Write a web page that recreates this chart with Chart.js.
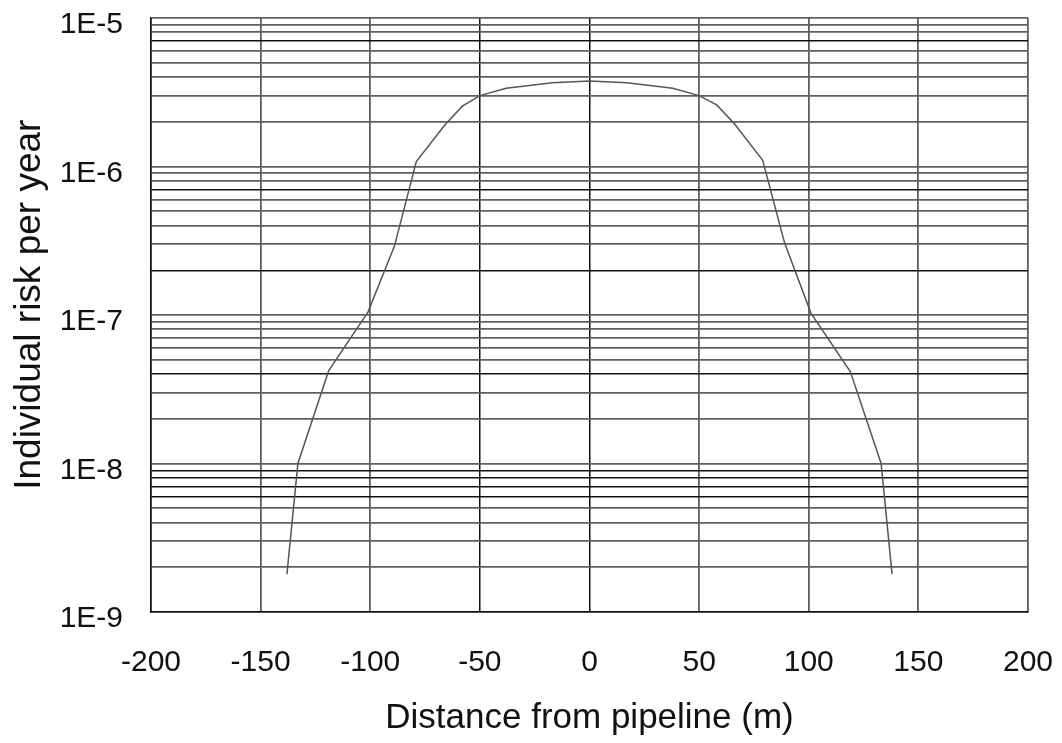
<!DOCTYPE html>
<html>
<head>
<meta charset="utf-8">
<script src="https://cdn.jsdelivr.net/npm/chart.js@4.4.1/dist/chart.umd.min.js"></script>
<style>
  body { margin: 0; background: #fff; }
</style>
</head>
<body>
<canvas id="riskChart" width="1062" height="743"></canvas>
<script>
// distance from pipeline (m) and individual risk per year
const distances = [-138, -133, -119, -101, -89, -79, -66, -58, -50, -38, -17, 0, 17, 38, 50, 58, 66, 79, 89, 101, 119, 133, 138];
const riskValues = [1.8e-9, 1.0e-8, 4.2e-8, 1.05e-7, 2.9e-7, 1.08e-6, 1.9e-6, 2.55e-6, 3.0e-6, 3.36e-6, 3.66e-6, 3.77e-6, 3.66e-6, 3.36e-6, 3.0e-6, 2.6e-6, 1.95e-6, 1.1e-6, 3.05e-7, 1.03e-7, 4.15e-8, 1.0e-8, 1.8e-9];

// axis ticks
const xTicks = [-200, -150, -100, -50, 0, 50, 100, 150, 200];
const yDecades = [1e-9, 1e-8, 1e-7, 1e-6, 1e-5];
const yTickLabels = ['1E-9', '1E-8', '1E-7', '1E-6', '1E-5'];

// grid lines that print darker in the original
const darkX = [-50, 0];
const darkY = [7e-6, 7e-7, 2e-7, 4e-8, 9e-9, 8e-9, 7e-9, 6e-9];

const sameLog = (a, b) => Math.abs(Math.log10(a) - Math.log10(b)) < 1e-6;

const points = distances.map((d, i) => ({ x: d, y: riskValues[i] }));

const ctx = document.getElementById('riskChart').getContext('2d');
const fontFamily = '"Liberation Sans", Arial, sans-serif';

new Chart(ctx, {
  type: 'line',
  data: {
    datasets: [{
      data: points,
      borderColor: '#555',
      borderWidth: 1.5,
      pointRadius: 0,
      tension: 0,
      fill: false
    }]
  },
  options: {
    responsive: false,
    animation: false,
    devicePixelRatio: 1,
    layout: { padding: { top: 18, right: 34, left: 0, bottom: 0 } },
    plugins: { legend: { display: false }, tooltip: { enabled: false } },
    scales: {
      x: {
        type: 'linear',
        min: -200,
        max: 200,
        afterBuildTicks: scale => { scale.ticks = xTicks.map(v => ({ value: v })); },
        afterFit: scale => {
          scale.height = 131;
          // drop the label overhang so the plot box sits where the original has it
          scale.paddingLeft = 0;
          scale.paddingRight = 0;
        },
        border: { color: '#111', width: 1.5 },
        grid: {
          drawTicks: false,
          color: c => darkX.includes(c.tick.value) ? '#111' : '#5f5f5f',
          lineWidth: c => darkX.includes(c.tick.value) ? 1.5 : 1.8
        },
        ticks: {
          color: '#111',
          padding: 33,
          maxRotation: 0,
          font: { family: fontFamily, size: 30 }
        },
        title: {
          display: true,
          text: 'Distance from pipeline (m)',
          color: '#111',
          padding: { top: 0, bottom: 4 },
          font: { family: fontFamily, size: 35 }
        }
      },
      y: {
        type: 'logarithmic',
        min: 1e-9,
        max: 1e-5,
        afterBuildTicks: scale => {
          const ticks = [];
          yDecades.slice(0, -1).forEach(d => {
            for (let m = 1; m < 10; m++) ticks.push({ value: d * m });
          });
          ticks.push({ value: yDecades[yDecades.length - 1] });
          scale.ticks = ticks;
        },
        afterFit: scale => {
          scale.width = 151;
          scale.paddingTop = 0;
          scale.paddingBottom = 0;
        },
        border: { color: '#111', width: 1.5 },
        grid: {
          drawTicks: false,
          color: c => darkY.some(v => sameLog(v, c.tick.value)) ? '#111' : '#5f5f5f',
          lineWidth: c => darkY.some(v => sameLog(v, c.tick.value)) ? 1.5 : 1.8
        },
        ticks: {
          color: '#111',
          padding: 28,
          autoSkip: false,
          font: { family: fontFamily, size: 30, lineHeight: 0.45 },
          callback: value => {
            const i = yDecades.findIndex(d => sameLog(d, value));
            // empty first line nudges the label a little below its grid line
            return i >= 0 ? ['', yTickLabels[i]] : '';
          }
        },
        title: {
          display: true,
          // leading spaces lift the rotated title a little, like the original
          text: '  Individual risk per year',
          color: '#111',
          padding: { top: 8, bottom: 0 },
          font: { family: fontFamily, size: 37 }
        }
      }
    }
  }
});
</script>
</body>
</html>
